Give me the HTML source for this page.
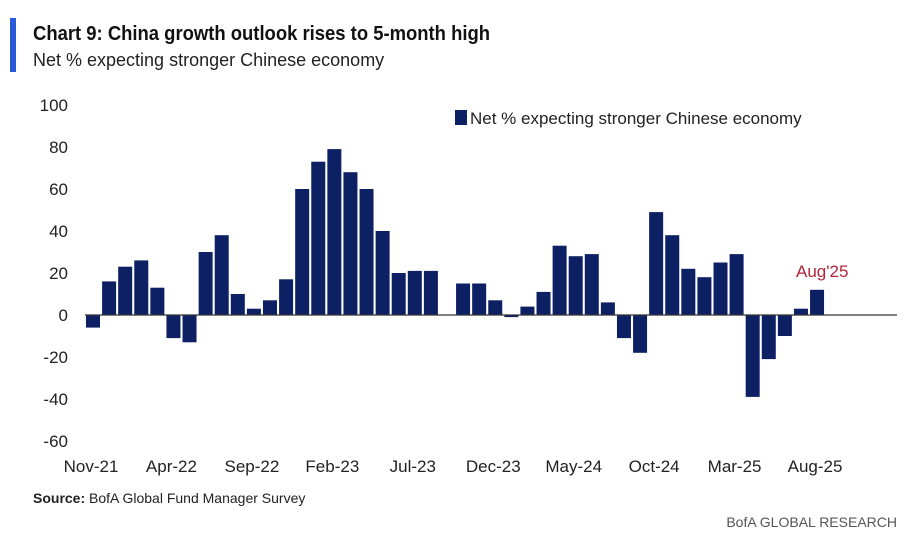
<!DOCTYPE html>
<html><head><meta charset="utf-8"><style>
body{margin:0;background:#fff;font-family:"Liberation Sans",sans-serif;}
svg text{font-family:"Liberation Sans",sans-serif;}
</style></head><body>
<svg width="910" height="552">
<rect x="10" y="18" width="6" height="54" fill="#2a5bd7"/>
<text x="33" y="40" font-size="20" font-weight="bold" fill="#111" textLength="457" lengthAdjust="spacingAndGlyphs">Chart 9: China growth outlook rises to 5-month high</text>
<text x="33" y="66" font-size="18" fill="#222">Net % expecting stronger Chinese economy</text>
<g id="yaxis"></g><g id="bars"></g><g id="xaxis"></g>
<rect x="455" y="110" width="12" height="15" fill="#0e2064"/>
<text x="470" y="124" font-size="17" fill="#222">Net % expecting stronger Chinese economy</text>
<text x="796" y="277" font-size="17" fill="#b3243a">Aug'25</text>
<text x="33" y="503" font-size="14" fill="#222"><tspan font-weight="bold">Source:</tspan> BofA Global Fund Manager Survey</text>
<text x="897" y="527" font-size="14" fill="#555" text-anchor="end">BofA GLOBAL RESEARCH</text>
</svg>
<script>
const values=[-6,16,23,26,13,-11,-13,30,38,10,3,7,17,60,73,79,68,60,40,20,21,21,null,15,15,7,-1,4,11,33,28,29,6,-11,-18,49,38,22,18,25,29,-39,-21,-10,3,12];
const xTickLabels=["Nov-21","Apr-22","Sep-22","Feb-23","Jul-23","Dec-23","May-24","Oct-24","Mar-25","Aug-25"];
const yTicks=[100,80,60,40,20,0,-20,-40,-60];
const NS="http://www.w3.org/2000/svg";
const X0=93,STEP=16.09,Y0=315,SC=2.1;
const xs=i=>X0+i*STEP, ys=v=>Y0-v*SC;
const ya=document.getElementById('yaxis'),bg=document.getElementById('bars'),xa=document.getElementById('xaxis');
function mk(tag,attrs,txt){const e=document.createElementNS(NS,tag);for(const k in attrs)e.setAttribute(k,attrs[k]);if(txt!==undefined)e.textContent=txt;return e;}
yTicks.forEach(v=>{const t=mk('text',{x:68,y:ys(v)+6,'font-size':17,fill:'#222','text-anchor':'end'},v);


ya.appendChild(t);});
values.forEach((v,i)=>{if(v===null)return;const y=Math.min(ys(v),Y0),h=Math.abs(v*SC);
const r=mk('rect',{x:xs(i)-7,y:y,width:14,height:Math.max(h,1),fill:'#0e2064'});


bg.appendChild(r);});
const ax=mk('line',{x1:85,x2:897,y1:Y0,y2:Y0,stroke:'#333','stroke-width':1.3});


xa.appendChild(ax);
xTickLabels.forEach((l,k)=>{const t=mk('text',{x:xs(k*5)-2,y:472,'font-size':17,fill:'#222','text-anchor':'middle'},l);


xa.appendChild(t);});
</script>
</body></html>
